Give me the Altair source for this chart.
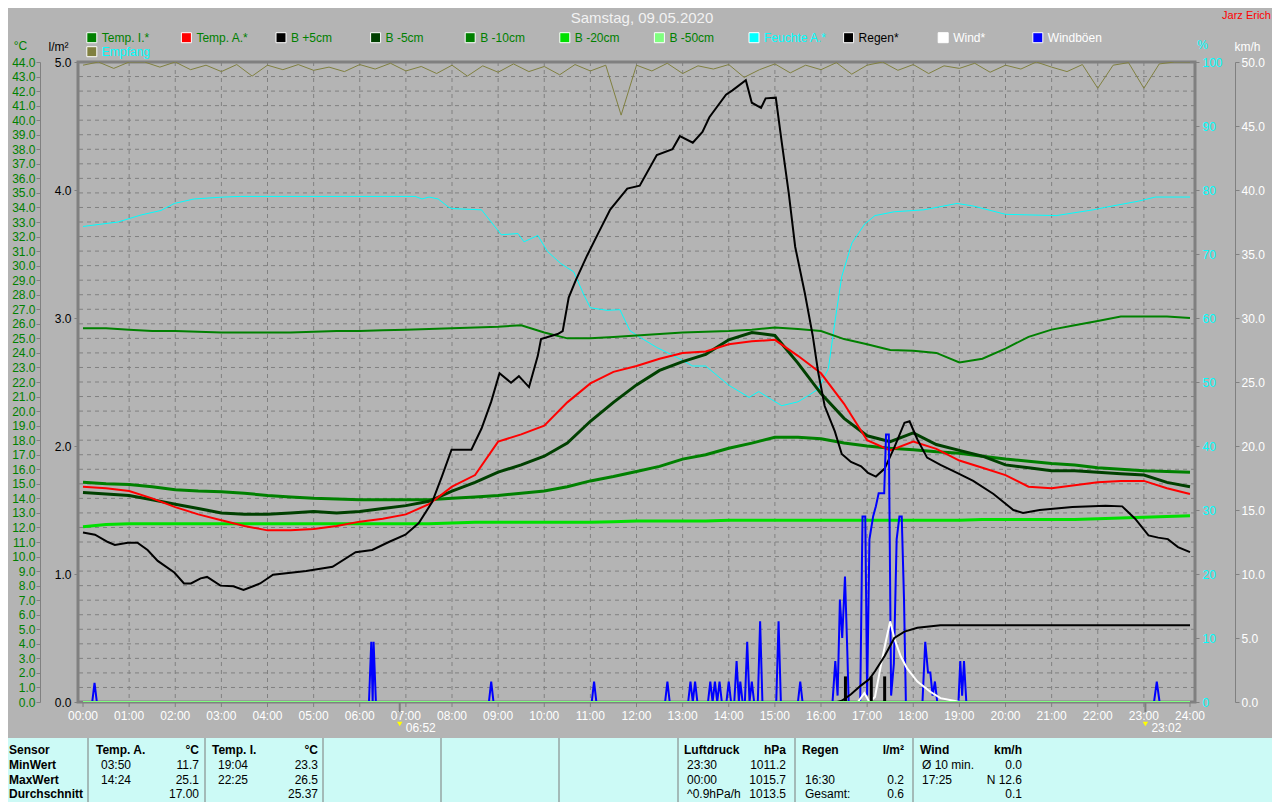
import altair as alt
import pandas as pd

# ---------------------------------------------------------------- data
HALF_HOURS = [i / 2 for i in range(49)]

HOUR_TICKS = list(range(25))
HOUR_LABELS = ["00:00", "01:00", "02:00", "03:00", "04:00", "05:00", "06:00", "07:00",
               "08:00", "09:00", "10:00", "11:00", "12:00", "13:00", "14:00", "15:00",
               "16:00", "17:00", "18:00", "19:00", "20:00", "21:00", "22:00", "23:00",
               "24:00"]

temp_i_values = [25.7, 25.7, 25.6, 25.5, 25.5, 25.45, 25.4, 25.4, 25.4, 25.4,
                 25.45, 25.5, 25.5, 25.55, 25.6, 25.65, 25.7, 25.75, 25.8, 25.9,
                 25.4, 25.0, 25.0, 25.1, 25.2, 25.3, 25.4, 25.45, 25.5, 25.6,
                 25.75, 25.65, 25.5, 24.95, 24.6, 24.2, 24.15, 24.0, 23.35, 23.6,
                 24.3, 25.1, 25.6, 25.9, 26.2, 26.5, 26.5, 26.5, 26.4]

temp_a_values = [14.8, 14.7, 14.5, 14.0, 13.4, 12.9, 12.5, 12.1, 11.8, 11.8,
                 11.9, 12.1, 12.4, 12.6, 12.9, 13.6, 14.8, 15.6, 17.9, 18.4,
                 19.0, 20.6, 21.9, 22.7, 23.1, 23.6, 24.0, 24.1, 24.6, 24.8,
                 24.9, 23.8, 22.6, 20.5, 18.0, 17.3, 17.9, 17.4, 16.6, 16.1,
                 15.6, 14.8, 14.7, 14.9, 15.1, 15.2, 15.2, 14.7, 14.3]

b_m5_values = [14.4, 14.3, 14.2, 13.9, 13.6, 13.3, 13.0, 12.9, 12.9, 13.0,
               13.1, 13.0, 13.1, 13.3, 13.5, 13.8, 14.5, 15.1, 15.8, 16.3,
               16.9, 17.8, 19.3, 20.6, 21.8, 22.8, 23.4, 23.9, 24.9, 25.4,
               25.2, 23.3, 21.2, 19.5, 18.3, 17.9, 18.5, 17.7, 17.3, 16.9,
               16.3, 16.1, 15.9, 15.9, 15.8, 15.7, 15.6, 15.1, 14.8]

b_m10_values = [15.1, 15.0, 14.95, 14.8, 14.6, 14.5, 14.45, 14.35, 14.2, 14.1,
                14.0, 13.95, 13.9, 13.9, 13.9, 13.9, 14.0, 14.1, 14.2, 14.35,
                14.5, 14.8, 15.2, 15.5, 15.85, 16.2, 16.7, 17.0, 17.45, 17.8,
                18.2, 18.2, 18.1, 17.8, 17.6, 17.45, 17.35, 17.2, 17.1, 16.9,
                16.7, 16.55, 16.4, 16.3, 16.1, 16.0, 15.9, 15.85, 15.8]

b_m20_values = [12.05, 12.2, 12.25, 12.25, 12.25, 12.25, 12.25, 12.25, 12.25, 12.25,
                12.25, 12.25, 12.25, 12.25, 12.25, 12.25, 12.3, 12.35, 12.35, 12.35,
                12.35, 12.35, 12.35, 12.4, 12.45, 12.45, 12.45, 12.45, 12.5, 12.5,
                12.5, 12.5, 12.5, 12.5, 12.5, 12.5, 12.5, 12.5, 12.5, 12.55,
                12.55, 12.55, 12.55, 12.55, 12.6, 12.65, 12.7, 12.75, 12.8]

b_m50_hours = [0.0, 24.0]
b_m50_values = [0.0, 0.0]

b5_hours = [0.0, 0.26, 0.54, 0.69, 0.97, 1.18, 1.4, 1.62, 1.98, 2.19, 2.34, 2.55,
            2.69, 2.98, 3.26, 3.48, 3.84, 4.12, 4.84, 5.41, 5.91, 6.27, 6.63, 6.99,
            7.28, 7.57, 7.78, 7.99, 8.42, 8.64, 8.85, 9.03, 9.28, 9.45, 9.67, 9.86,
            9.93, 10.29, 10.4, 10.53, 10.68, 10.93, 11.15, 11.43, 11.8, 12.07, 12.44,
            12.78, 12.94, 13.22, 13.43, 13.58, 13.94, 14.08, 14.37, 14.5, 14.7, 14.8,
            15.02, 15.15, 15.3, 15.44, 15.65, 15.82, 15.94, 16.08, 16.3, 16.45, 16.65,
            16.87, 17.02, 17.19, 17.38, 17.59, 17.81, 17.92, 18.09, 18.3, 18.59, 18.95,
            19.3, 19.74, 20.17, 20.38, 20.74, 21.45, 22.17, 22.53, 22.81, 23.1, 23.31,
            23.52, 23.74, 24.0]
b5_values = [11.65, 11.5, 11.0, 10.8, 10.95, 10.95, 10.45, 9.7, 8.9, 8.15, 8.15, 8.5,
             8.6, 8.0, 7.95, 7.7, 8.15, 8.75, 9.0, 9.3, 10.3, 10.45, 11.0, 11.5,
             12.3, 13.75, 15.5, 17.35, 17.35, 18.8, 20.65, 22.6, 21.95, 22.4, 21.65, 23.8,
             24.95, 25.3, 25.5, 27.8, 28.97, 30.7, 32.1, 33.85, 35.3, 35.5, 37.6,
             38.0, 38.9, 38.45, 39.2, 40.2, 41.75, 42.05, 42.75, 41.2, 40.85, 41.5,
             41.55, 38.45, 35.0, 31.3, 28.1, 25.2, 22.65, 20.35, 18.6, 17.05, 16.5,
             16.2, 15.75, 15.5, 16.05, 17.5, 19.2, 19.3, 18.05, 16.8, 16.3, 15.75,
             15.2, 14.3, 13.2, 13.0, 13.2, 13.4, 13.5, 13.45, 12.6, 11.45, 11.3,
             11.2, 10.65, 10.3]

hum_hours = [0.0, 0.54, 0.76, 1.26, 1.69, 1.98, 2.41, 3.05, 3.41, 7.2, 7.35, 7.5, 7.7,
             7.93, 8.0, 8.64, 9.07, 9.43, 9.56, 9.86, 10.07, 10.36, 10.64, 10.86, 11.0,
             11.36, 11.64, 11.86, 12.07, 12.44, 12.78, 13.22, 13.5, 14.0, 14.44, 14.65,
             14.93, 15.15, 15.5, 15.73, 15.94, 16.16, 16.3, 16.45, 16.67, 16.95, 17.17,
             17.59, 18.23, 18.95, 19.3, 20.0, 21.1, 21.9, 22.17, 22.88, 23.25, 24.0]
hum_values = [74.3, 74.8, 75.0, 76.1, 76.8, 77.9, 78.6, 78.9, 79.0, 79.0, 78.6, 78.9, 78.6,
              77.3, 77.1, 76.9, 73.0, 73.2, 71.9, 72.9, 70.4, 68.5, 67.2, 63.6, 61.6,
              61.2, 61.3, 58.0, 57.0, 55.4, 54.2, 52.5, 52.5, 49.5, 47.6, 48.5,
              47.25, 46.3, 46.9, 47.9, 48.9, 52.1, 59.3, 66.5, 71.7, 74.7, 76.0,
              76.6, 76.9, 77.9, 77.5, 76.2, 76.0, 76.9, 77.3, 78.25, 78.9, 78.9]

emp_hours = [i / 3 for i in range(73)]
emp_values = [99.5, 100, 99.0, 100, 100, 99.2, 100, 98.8, 99.5, 98.5, 99.6, 97.8,
              99.5, 98.8, 99.6, 98.7, 99.2, 98.5, 99.6, 98.9, 99.8, 98.6, 99.3, 98.2,
              99.5, 97.8, 99.4, 98.4, 99.7, 98.5, 99.3, 98.0, 99.6, 98.6, 99.5, 91.7,
              99.5, 98.6, 99.8, 98.2, 99.4, 98.9, 99.6, 97.6, 98.8, 99.7, 98.3, 99.5,
              98.8, 99.9, 98.1, 99.5, 100, 98.7, 99.6, 98.2, 99.4, 99.0, 99.8, 98.4,
              99.5, 98.9, 100, 99.2, 98.5, 99.6, 95.9, 99.5, 99.9, 95.9, 99.7, 100, 100]

gust_hours = [0.0, 0.2, 0.25, 0.3, 6.2, 6.25, 6.28, 6.3, 6.35, 8.8, 8.85, 8.9,
              11.03, 11.08, 11.13, 12.62, 12.67, 12.72, 13.12, 13.17, 13.22, 13.27, 13.32,
              13.55, 13.6, 13.65, 13.7, 13.75, 13.8, 13.85, 13.95, 14.0, 14.05, 14.12,
              14.17, 14.22, 14.25, 14.3, 14.35, 14.4, 14.45, 14.5, 14.55, 14.63, 14.68,
              14.73, 15.03, 15.08, 15.13, 15.5, 15.55, 15.6, 16.25, 16.31, 16.36, 16.41,
              16.46, 16.52, 16.57, 16.6, 16.85, 16.9, 16.96, 17.0, 17.05, 17.13, 17.19,
              17.25, 17.37, 17.41, 17.47, 17.52, 17.58, 17.64, 17.7, 17.75, 17.8, 17.84,
              18.2, 18.26, 18.32, 18.37, 18.42, 18.47, 18.52, 18.98, 19.02, 19.06, 19.1,
              19.15, 23.22, 23.28, 23.34, 24.0]
gust_values = [0, 0, 1.5, 0, 0, 4.7, 0, 4.7, 0, 0, 1.6, 0,
               0, 1.6, 0, 0, 1.6, 0, 0, 1.6, 0, 1.6, 0,
               0, 1.6, 0, 1.6, 0, 1.6, 0, 0, 1.6, 0, 0,
               3.2, 0, 1.6, 0, 0, 4.7, 0, 1.6, 0, 0, 6.3,
               0, 0, 6.3, 0, 0, 1.6, 0, 0, 3.2, 0.5, 8.0,
               5.0, 9.8, 4.0, 0, 0, 14.5, 14.5, 0.5, 12.7, 14.5, 15.3,
               16.3, 16.3, 20.9, 20.9, 0.5, 3.0, 12.7, 14.5, 14.5, 8.0, 0,
               0, 4.7, 2.3, 2.3, 0.5, 1.6, 0, 0, 3.2, 0.5, 3.2,
               0, 0, 1.6, 0, 0]

wind_hours = [16.4, 16.8, 16.94, 17.05, 17.17, 17.3, 17.41, 17.5, 17.6, 17.73, 17.87,
              18.09, 18.37, 18.59, 18.88, 19.0]
wind_values = [0, 0, 0.7, 0, 0.4, 2.9, 4.8, 6.3, 4.85, 3.55, 2.6, 1.6, 0.8, 0.3, 0.1, 0]

rain_sum_hours = [16.35, 16.45, 16.65, 16.87, 17.05, 17.17, 17.38, 17.59, 17.81, 18.09,
                  18.59, 24.0]
rain_sum_values = [0.0, 0.01, 0.06, 0.13, 0.18, 0.24, 0.36, 0.5, 0.55, 0.58, 0.6, 0.6]

rain_bar_hours = [16.53, 17.09, 17.38]
rain_bar_values = [0.2, 0.2, 0.2]

sun_hours = [6.867, 23.033]
sun_labels = ["06:52", "23:02"]

TITLE = "Samstag, 09.05.2020"
AUTHOR = "Jarz Erich"

LEGEND_LABELS = ["Temp. I.*", "Temp. A.*", "B +5cm", "B -5cm", "B -10cm", "B -20cm",
                 "B -50cm", "Feuchte A.*", "Regen*", "Wind*", "Windböen", "Empfang"]

tab_sensor = ["Sensor", "MinWert", "MaxWert", "Durchschnitt"]
tab_ta_time = ["Temp. A.", "03:50", "14:24", ""]
tab_ta_val = ["°C", "11.7", "25.1", "17.00"]
tab_ti_time = ["Temp. I.", "19:04", "22:25", ""]
tab_ti_val = ["°C", "23.3", "26.5", "25.37"]
tab_p_time = ["Luftdruck", "23:30", "00:00", "^0.9hPa/h"]
tab_p_val = ["hPa", "1011.2", "1015.7", "1013.5"]
tab_r_time = ["Regen", "", "16:30", "Gesamt:"]
tab_r_val = ["l/m²", "", "0.2", "0.6"]
tab_w_time = ["Wind", "Ø 10 min.", "17:25", ""]
tab_w_val = ["km/h", "0.0", "N 12.6", "0.1"]

# ---------------------------------------------------------------- styles
FONT = "Liberation Sans"
BG = "#b4b4b4"
GRID = "#808080"
C_TI = "#008000"
C_TA = "#ff0000"
C_B5 = "#000000"
C_BM5 = "#004000"
C_BM10 = "#008000"
C_BM20 = "#00e000"
C_BM50 = "#80ff80"
C_HUM = "#00ffff"
C_RAIN = "#000000"
C_WIND = "#ffffff"
C_GUST = "#0000ff"
C_EMP = "#808040"

LEGEND_FILLS = [C_TI, C_TA, C_B5, C_BM5, C_BM10, C_BM20, C_BM50, C_HUM, C_RAIN, C_WIND,
                C_GUST, C_EMP]
LEGEND_TEXT = [C_TI, C_TI, C_TI, C_TI, C_TI, C_TI, C_TI, C_HUM, "#000000", "#ffffff",
               "#ffffff", C_HUM]

W, H = 1117, 640
X_SCALE = alt.Scale(domain=[0, 24], nice=False, zero=False)


def ysc(lo, hi):
    return alt.Scale(domain=[lo, hi], nice=False, zero=False)


def series(hours, values, color, width, lo, hi, axis=None):
    df = pd.DataFrame({"h": hours, "v": values})
    return alt.Chart(df).mark_line(color=color, strokeWidth=width, clip=True).encode(
        x=alt.X("h:Q", scale=X_SCALE, axis=None),
        y=alt.Y("v:Q", scale=ysc(lo, hi), axis=axis),
    )


def axis_common(**kw):
    base = dict(labelFontSize=12, tickColor=GRID, tickSize=4, grid=False,
                labelOverlap=False, titleFontSize=12, titleFontWeight="normal",
                titleAngle=0, titleAlign="center", titleBaseline="middle")
    base.update(kw)
    return alt.Axis(**base)


temp_axis = axis_common(orient="left", offset=38, values=list(range(45)), format=".1f",
                        labelColor=C_TI, labelPadding=1, domainColor=GRID,
                        title="°C", titleColor=C_TI, titleX=-20, titleY=-17)
rain_axis = axis_common(orient="left", offset=0, values=[0, 1, 2, 3, 4, 5], format=".1f",
                        labelColor="#000000", labelPadding=3, domain=False,
                        title="l/m²", titleColor="#000000", titleX=-20, titleY=-16)
hum_axis = axis_common(orient="right", offset=0, values=list(range(0, 101, 10)), format="d",
                       labelColor=C_HUM, labelPadding=3, domain=False,
                       title="%", titleColor=C_HUM, titleX=7, titleY=-18)
wind_axis = axis_common(orient="right", offset=40, values=list(range(0, 51, 5)), format=".1f",
                        labelColor="#ffffff", labelPadding=2, domainColor=GRID,
                        title="km/h", titleColor="#ffffff", titleX=12, titleY=-16)

layers = []

# grid
layers.append(alt.Chart(pd.DataFrame({"h": list(range(1, 24))})).mark_rule(
    color=GRID, strokeDash=[4, 4], strokeWidth=1).encode(
    x=alt.X("h:Q", scale=X_SCALE, axis=None)))
layers.append(alt.Chart(pd.DataFrame({"t": list(range(1, 44))})).mark_rule(
    color=GRID, strokeDash=[4, 4], strokeWidth=1).encode(
    y=alt.Y("t:Q", scale=ysc(0, 44), axis=None)))

# time axis (ticks + labels through the x scale)
hour_df = pd.DataFrame({"h": HOUR_TICKS, "label": HOUR_LABELS})
layers.append(alt.Chart(hour_df).mark_rule(color=GRID, strokeWidth=1).encode(
    x=alt.X("h:Q", scale=X_SCALE, axis=None), y=alt.value(H), y2=alt.value(H + 5)))
layers.append(alt.Chart(hour_df).mark_text(align="center", baseline="middle", fontSize=12,
                                           color="#ffffff").encode(
    x=alt.X("h:Q", scale=X_SCALE, axis=None), y=alt.value(H + 14), text="label:N"))

# series
layers.append(series(emp_hours, emp_values, C_EMP, 1, 0, 100))
layers.append(series(hum_hours, hum_values, C_HUM, 1, 0, 100, hum_axis))
layers.append(series(HALF_HOURS, b_m20_values, C_BM20, 3, 0, 44))
layers.append(series(HALF_HOURS, b_m10_values, C_BM10, 3, 0, 44))
layers.append(series(HALF_HOURS, temp_i_values, C_TI, 2, 0, 44, temp_axis))
layers.append(series(HALF_HOURS, b_m5_values, C_BM5, 3, 0, 44))
layers.append(series(HALF_HOURS, temp_a_values, C_TA, 2, 0, 44))
layers.append(series(b5_hours, b5_values, C_B5, 2, 0, 44))
layers.append(series(gust_hours, gust_values, C_GUST, 2, 0, 50, wind_axis))
layers.append(series(wind_hours, wind_values, C_WIND, 2, 0, 50))
layers.append(alt.Chart(pd.DataFrame({"h": rain_bar_hours, "v": rain_bar_values})).mark_bar(
    color=C_RAIN, size=3).encode(
    x=alt.X("h:Q", scale=X_SCALE, axis=None),
    y=alt.Y("v:Q", scale=ysc(0, 5), axis=None)))
layers.append(series(rain_sum_hours, rain_sum_values, C_RAIN, 2, 0, 5, rain_axis))
layers.append(series(b_m50_hours, b_m50_values, C_BM50, 2, 0, 44))

# sunrise / sunset markers
sun_df = pd.DataFrame({"h": sun_hours, "label": sun_labels})
layers.append(alt.Chart(sun_df).mark_rule(color=GRID, strokeWidth=2).encode(
    x=alt.X("h:Q", scale=X_SCALE, axis=None), y=alt.value(H), y2=alt.value(H + 10)))
layers.append(alt.Chart(sun_df).mark_point(shape="triangle-down", filled=True, color="#ffff00",
                                           size=30, opacity=1).encode(
    x=alt.X("h:Q", scale=X_SCALE, axis=None), y=alt.value(H + 22)))
layers.append(alt.Chart(sun_df).mark_text(align="left", baseline="middle", dx=6, fontSize=12,
                                          color="#ffffff").encode(
    x=alt.X("h:Q", scale=X_SCALE, axis=None), y=alt.value(H + 26), text="label:N"))

# legend (positions computed here, not in data)
leg_rows = []
for i, (lab, fill, tc) in enumerate(zip(LEGEND_LABELS, LEGEND_FILLS, LEGEND_TEXT)):
    if i < 11:
        cx, cy = 13.8 + i * 94.6, -24.3
    else:
        cx, cy = 13.8, -10.3
    leg_rows.append({"label": lab, "fill": fill, "tc": tc, "x0": cx - 5, "x1": cx + 5,
                     "y0": cy - 5, "y1": cy + 5, "tx": cx + 10, "ty": cy})
leg_df = pd.DataFrame(leg_rows)
layers.append(alt.Chart(leg_df).mark_rect(stroke="#ffffff", strokeWidth=1).encode(
    x=alt.X("x0:Q", scale=None, axis=None), x2="x1:Q",
    y=alt.Y("y0:Q", scale=None, axis=None), y2="y1:Q",
    fill=alt.Fill("fill:N", scale=None)))
layers.append(alt.Chart(leg_df).mark_text(align="left", baseline="middle", fontSize=12).encode(
    x=alt.X("tx:Q", scale=None, axis=None), y=alt.Y("ty:Q", scale=None, axis=None),
    text="label:N", color=alt.Color("tc:N", scale=None)))

# title & author
head_df = pd.DataFrame({"label": [TITLE, AUTHOR], "tx": [564, 1193], "ty": [-44, -46],
                        "tc": ["#f2f2f2", "#ff0000"]})
layers.append(alt.Chart(head_df.iloc[[0]]).mark_text(align="center", baseline="middle",
                                                     fontSize=15).encode(
    x=alt.X("tx:Q", scale=None, axis=None), y=alt.Y("ty:Q", scale=None, axis=None),
    text="label:N", color=alt.Color("tc:N", scale=None)))
layers.append(alt.Chart(head_df.iloc[[1]]).mark_text(align="right", baseline="middle",
                                                     fontSize=11).encode(
    x=alt.X("tx:Q", scale=None, axis=None), y=alt.Y("ty:Q", scale=None, axis=None),
    text="label:N", color=alt.Color("tc:N", scale=None)))

# bottom table
OX, OY = 78, 62  # page position of plot origin
one = pd.DataFrame({"a": [0]})
layers.append(alt.Chart(one).mark_rect(color="#ccfaf6").encode(
    x=alt.value(-OX + 8), x2=alt.value(W + 77), y=alt.value(738 - OY), y2=alt.value(H + 100)))
sep_df = pd.DataFrame({"px": [p - OX for p in [88, 205, 323, 441, 559, 678, 795, 913]]})
layers.append(alt.Chart(sep_df).mark_rule(color="#7a7a7a", strokeWidth=1).encode(
    x=alt.X("px:Q", scale=None, axis=None), y=alt.value(738 - OY), y2=alt.value(H + 100)))

columns = [
    (tab_sensor, 9, 9, "left"),
    (tab_ta_time, 96, 101, "left"), (tab_ta_val, 199, 199, "right"),
    (tab_ti_time, 212, 218, "left"), (tab_ti_val, 318, 318, "right"),
    (tab_p_time, 684, 687, "left"), (tab_p_val, 786, 786, "right"),
    (tab_r_time, 802, 805, "left"), (tab_r_val, 904, 904, "right"),
    (tab_w_time, 920, 922, "left"), (tab_w_val, 1022, 1022, "right"),
]
row_y = [750, 765, 780, 794]
cells = []
for ci, (vals, hx, bx, align) in enumerate(columns):
    for ri, v in enumerate(vals):
        if not v:
            continue
        bold = ri == 0 or ci == 0
        cells.append({"label": v, "px": (hx if ri == 0 else bx) - OX, "py": row_y[ri] - OY,
                      "align": align, "bold": bold})
cells_df = pd.DataFrame(cells)
for align in ["left", "right"]:
    for bold in [True, False]:
        sub = cells_df[(cells_df["align"] == align) & (cells_df["bold"] == bold)]
        if len(sub) == 0:
            continue
        layers.append(alt.Chart(sub).mark_text(
            align=align, baseline="middle", fontSize=12, color="#000000",
            fontWeight="bold" if bold else "normal").encode(
            x=alt.X("px:Q", scale=None, axis=None), y=alt.Y("py:Q", scale=None, axis=None),
            text="label:N"))

chart = alt.layer(*layers).resolve_scale(y="independent").properties(
    width=W, height=H,
    autosize=alt.AutoSizeParams(type="none"),
    padding={"left": 70, "top": 54, "right": 77, "bottom": 100},
    background=BG,
).configure_view(stroke=GRID, strokeWidth=3).configure_axis(
    labelFont=FONT, titleFont=FONT).configure_text(font=FONT)

chart.save("out.html", embed_options={"renderer": "svg", "actions": False})
